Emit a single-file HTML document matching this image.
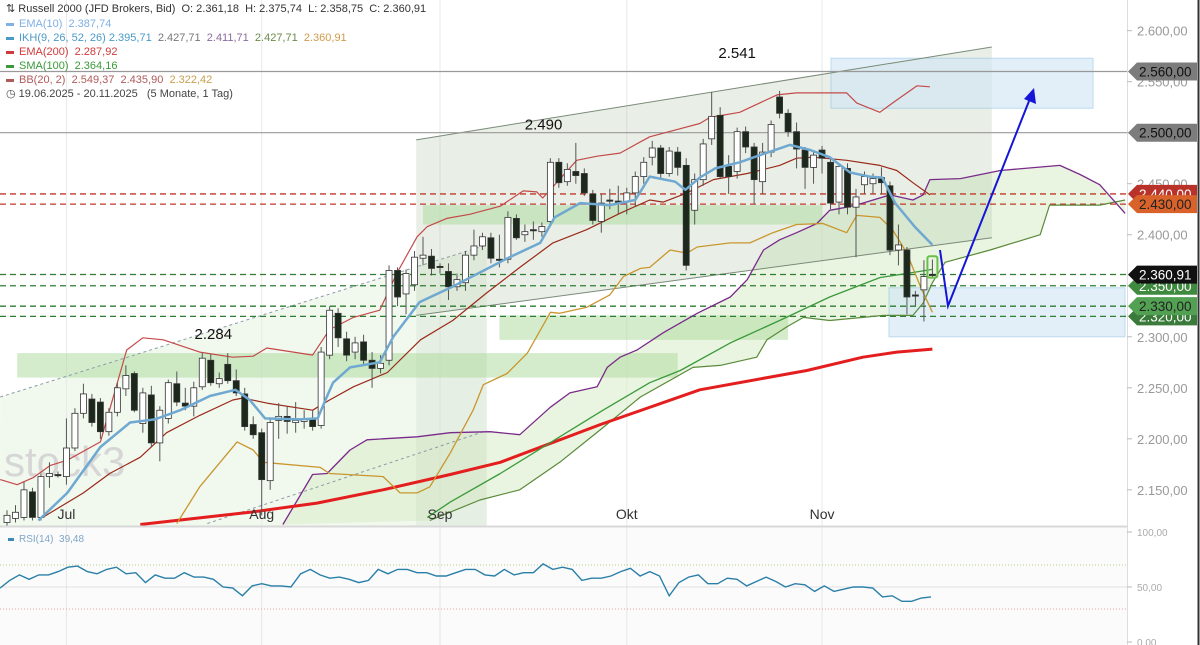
<!DOCTYPE html>
<html><head><meta charset="utf-8"><style>
body{margin:0;background:#fff;font-family:"Liberation Sans",sans-serif;}
#wrap{position:relative;width:1200px;height:645px;overflow:hidden;background:#fff;}
svg{position:absolute;left:0;top:0;}
.lg{position:absolute;left:6px;font-size:11px;line-height:14px;white-space:nowrap;}
.lg b{display:inline-block;width:8px;height:3px;margin-right:5px;vertical-align:middle;font-weight:normal;}
</style></head><body>
<div id="wrap">
<svg id="svg" width="1200" height="645"></svg>
<div class="lg" style="top:2px;color:#333">⇅ Russell 2000 (JFD Brokers, Bid)&nbsp; O: 2.361,18&nbsp; H: 2.375,74&nbsp; L: 2.358,75&nbsp; C: 2.360,91</div>
<div class="lg" style="top:17px;color:#7fb0e6"><b style="background:#7fb0e6"></b>EMA(10)&nbsp; 2.387,74</div>
<div class="lg" style="top:31px;color:#4a9ac8"><b style="background:#4a9ac8"></b>IKH(9, 26, 52, 26) 2.395,71&nbsp; <span style="color:#777">2.427,71</span>&nbsp; <span style="color:#8a6a9a">2.411,71</span>&nbsp; <span style="color:#6a8a4a">2.427,71</span>&nbsp; <span style="color:#d29a4a">2.360,91</span></div>
<div class="lg" style="top:45px;color:#d03a3a"><b style="background:#d03a3a"></b>EMA(200)&nbsp; 2.287,92</div>
<div class="lg" style="top:59px;color:#3a9a3a"><b style="background:#3a9a3a"></b>SMA(100)&nbsp; 2.364,16</div>
<div class="lg" style="top:73px;color:#b05a5a"><b style="background:#b05a5a"></b>BB(20, 2)&nbsp; 2.549,37&nbsp; 2.435,90&nbsp; <span style="color:#c9a050">2.322,42</span></div>
<div class="lg" style="top:87px;color:#444">◷ 19.06.2025 - 20.11.2025&nbsp;&nbsp; (5 Monate, 1 Tag)</div>
<div class="lg" style="top:533px;left:8px;font-size:10px;color:#7fa6c8"><b style="background:#3a8ab8;width:6px"></b>RSI(14)&nbsp; 39,48</div>
</div>
<script>
const opens=[2118,2122,2123,2148,2123,2163,2165,2163,2191,2225,2239,2236,2207,2226,2249,2264,2215,2243,2196,2220,2254,2235,2232,2251,2277,2254,2273,2257,2244,2214,2206,2159,2218,2222,2216,2217,2220,2213,2282,2323,2298,2285,2295,2277,2269,2277,2365,2342,2351,2377,2379,2369,2364,2349,2353,2380,2389,2397,2376,2376,2416,2400,2405,2403,2413,2471,2452,2462,2460,2440,2413,2434,2433,2432,2441,2457,2476,2485,2460,2481,2468,2424,2454,2494,2517,2467,2462,2501,2486,2452,2481,2535,2519,2501,2483,2466,2483,2471,2432,2465,2427,2449,2450,2456,2448,2385,2385,2341,2346,2361.18];
const closes=[2125,2128,2150,2123,2163,2166,2164,2191,2225,2244,2216,2207,2226,2250,2262,2228,2245,2196,2228,2255,2236,2232,2250,2279,2255,2259,2257,2245,2212,2204,2160,2216,2222,2217,2218,2220,2212,2285,2326,2299,2282,2294,2277,2269,2274,2365,2339,2362,2378,2380,2367,2368,2349,2356,2380,2389,2398,2377,2375,2417,2397,2403,2404,2408,2471,2451,2464,2458,2441,2414,2431,2433,2432,2441,2457,2471,2485,2460,2482,2466,2370,2454,2489,2516,2457,2457,2501,2486,2454,2481,2508,2519,2501,2484,2466,2478,2475,2431,2467,2427,2437,2457,2455,2451,2385,2390,2339,2340,2359,2360.91];
const highs=[2130,2135,2158,2152,2166,2177,2168,2220,2230,2254,2244,2240,2230,2255,2272,2266,2250,2252,2232,2258,2266,2250,2256,2284,2283,2265,2284,2268,2250,2222,2210,2220,2235,2232,2236,2228,2228,2290,2330,2328,2305,2300,2302,2285,2282,2370,2368,2366,2384,2398,2386,2372,2372,2362,2384,2405,2402,2402,2400,2423,2420,2410,2413,2412,2475,2475,2470,2490,2465,2444,2440,2445,2448,2446,2462,2476,2492,2488,2486,2486,2475,2460,2494,2540,2525,2478,2505,2506,2490,2490,2512,2541,2523,2510,2486,2482,2487,2474,2470,2470,2445,2462,2460,2466,2452,2410,2388,2345,2375,2375.74];
const lows=[2112,2118,2120,2120,2120,2152,2162,2155,2188,2220,2212,2200,2203,2222,2242,2226,2206,2192,2178,2215,2232,2228,2222,2248,2252,2250,2254,2242,2208,2200,2125,2150,2200,2205,2206,2210,2208,2210,2278,2290,2276,2278,2272,2250,2264,2272,2330,2322,2345,2370,2360,2362,2336,2345,2345,2375,2385,2372,2368,2372,2395,2393,2395,2398,2408,2446,2448,2450,2438,2410,2402,2425,2420,2420,2428,2450,2468,2455,2457,2458,2365,2410,2448,2488,2455,2440,2455,2480,2430,2440,2476,2514,2496,2465,2445,2450,2460,2425,2420,2420,2378,2440,2440,2440,2380,2370,2322,2330,2315,2358.75];

const emaIdx=[3.7,7.1,11,14.5,17.4,20.4,23.9,26.9,28.6,30.4,34.5,36.6,37.5,38.4,40.4,43.9,45.5,48.6,52.2,55.7,59.2,62.8,64.5,67.5,71,74,75.7,78.7,79.9,81.6,83.4,86.3,88.7,92.2,94.6,96.9,99.3,101.6,103.1,104.6,106.9,109];
const emaVal=[2120,2147,2192,2216,2219,2228,2242,2248,2238,2220,2219,2220,2238,2255,2270,2275,2300,2334,2348,2363,2378,2392,2417,2431,2429,2434,2457,2452,2444,2456,2465,2471,2478,2488,2483,2476,2461,2457,2456,2431,2408,2390];
const bbUpIdx=[-0.8,1.2,3.1,5.1,7.1,11,14.1,16,18.4,22.7,26.6,29,30.6,34.5,36,38,40.8,43.9,45.9,48.3,49.5,51.8,54.5,58.1,60.8,62.4,63.1,64.3,67.1,69.5,72.2,75.7,81.6,82.8,86.3,90.7,93,96.9,98.9,100.1,102.8,104.8,107.2,108.7];
const bbUpVal=[2160,2155,2162,2174,2179,2197,2287,2299,2297,2285,2280,2281,2289,2284,2282,2307,2319,2326,2362,2398,2408,2416,2420,2428,2443,2442,2436,2447,2473,2477,2480,2496,2509,2515,2520,2537,2539,2539,2539,2529,2520,2532,2546,2545];
const bbMidIdx=[4.2,9,12.1,15.7,18.8,22.7,26.6,27.8,30.6,36,38,40.8,44.8,48.7,52.5,56.5,60.4,64.3,68.3,72.2,75.7,77.3,80.1,83.2,87.2,91,93,95,98.9,102.8,104.8,106.7,108.7];
const bbMidVal=[2123,2147,2166,2182,2206,2223,2238,2240,2235,2228,2238,2251,2265,2297,2316,2343,2368,2392,2405,2421,2434,2432,2441,2454,2460,2468,2475,2476,2473,2468,2463,2451,2439];
const bbLowIdx=[20,22.7,27.1,29,30.2,36.9,38,44.3,46.3,48.3,49.8,52.2,54.9,56.1,58.9,61.3,64,65.1,68.3,71,72.6,74.6,75.7,78.1,80.1,81.3,85.2,87.5,90.2,93,96.1,98.9,100.1,102.8,104.3,106,107.6,109];
const bbLowVal=[2117,2153,2197,2189,2177,2172,2166,2163,2147,2147,2153,2186,2228,2253,2264,2284,2324,2323,2329,2341,2359,2367,2368,2385,2382,2388,2392,2392,2402,2410,2411,2402,2419,2417,2405,2382,2349,2324];
const smaIdx=[49.5,52.2,58.1,65.1,70.2,75.7,79.3,85.2,91,96.9,102.8,106.7,109];
const smaVal=[2123,2138,2166,2202,2228,2255,2267,2294,2316,2339,2358,2363,2366];
const ema200Idx=[15.7,28.6,36.5,44.3,52.2,58.1,69.9,81.6,94.2,100.8,104.8,109];
const ema200Val=[2116,2128,2137,2150,2165,2177,2214,2248,2267,2280,2285,2287.92];
const spanBIdx=[32.5,36,37.7,40.4,42.4,48.3,52.2,56.9,60.4,64,66.3,69.5,70.7,72.2,74.2,77.3,81.3,85.2,87.2,89.1,91,93,95.4,96.9,98.9,100.8,104,106.7,107.9,108.7,112.3,117,124,126.4,128.7,131.7];
const spanBVal=[2116,2165,2166,2189,2199,2202,2206,2207,2204,2231,2245,2251,2270,2280,2287,2304,2323,2339,2356,2385,2395,2402,2411,2424,2427,2431,2439,2434,2439,2454,2455,2463,2468,2459,2449,2421];
const spanAIdx=[49.8,55.7,60.4,65.1,69.9,74.6,80.8,84,88.3,89.5,91.9,93.8,96.9,100.8,103.2,106.7,107.9,109,110.5,115.8,121.7,122.8,128.7,131.7];
const spanAVal=[2120,2140,2150,2177,2209,2241,2270,2272,2280,2297,2310,2319,2316,2319,2321,2321,2333,2353,2373,2385,2400,2429,2429,2434];
const rsiVals=[49,56,61,57,61,61,64,68,69,64,62,66,68,62,63,54,61,58,58,63,59,59,57,50,49,42,51,53,51,51,50,62,66,61,58,59,57,54,56,66,62,66,66,63,63,60,60,63,66,66,61,60,66,61,63,63,71,66,68,66,56,58,58,60,64,67,60,64,60,42,54,59,61,53,53,58,57,51,55,59,55,50,53,52,46,51,46,48,50,50,49,41,42,37,37,40,41];
const priceTicks=[2600,2550,2500,2450,2400,2350,2300,2250,2200,2150];
const rsiTicks=[100,50,0];
const monthLabels=["Jul","Aug","Sep","Okt","Nov"];
const monthIdx=[7,30,51,73,96];
const hLineGray=[2560,2500];
const hLineRed=[2440,2430];
const hLineGreen=[2361,2350,2330,2320];
const zoneTop=[2284,2429,2321];
const zoneBot=[2260,2410,2297];
const zoneFrom=[1.2,49,58];
const zoneTo=[79,96,92];
const peakLabels=["2.284","2.490","2.541"];
const peakIdx=[24.3,63.2,86];
const peakVal=[2298,2503,2573];

const X=i=>7+i*8.49;
const Y=v=>2683.7-1.0204*v;
const YR=r=>587-(r-50)*1.1;
const NS="http://www.w3.org/2000/svg";
const svg=document.getElementById('svg');
function mk(tag,attrs,parent){const e=document.createElementNS(NS,tag);for(const k in attrs)e.setAttribute(k,attrs[k]);(parent||svg).appendChild(e);return e;}
function fmt(v){const s=v.toFixed(2).split('.');return s[0].replace(/\B(?=(\d{3})+(?!\d))/g,'.')+','+s[1];}
function pts(ix,vals){return ix.map((d,k)=>X(d).toFixed(1)+','+Y(vals[k]).toFixed(1)).join(' ');}

// backgrounds
let e;
e=mk('rect',{x:0,y:0,width:1127,height:526,fill:'#fff'});

e=mk('polygon',{points:`${X(-0.8)},${Y(2241)} ${X(56.5)},${Y(2390)} ${X(56.5)},526 0,526`,fill:'#eef6ea',opacity:0.8});

// month grid
monthIdx.forEach((m,k)=>{
 e=mk('line',{x1:X(m),x2:X(m),y1:0,y2:645,stroke:'#e9e9e9','stroke-width':1});
 
});
// ichimoku cloud
const cloud=pts(spanBIdx,spanBVal)+' '+spanAIdx.slice().reverse().map((d,k)=>X(d).toFixed(1)+','+Y(spanAVal[spanAVal.length-1-k]).toFixed(1)).join(' ');
e=mk('polygon',{points:cloud,fill:'#d8ecc9',opacity:0.55});

// trend channel
const chI=[48.2,116],chU=[2493,2584],chL=[2321,2397];
e=mk('polygon',{points:`${X(chI[0])},${Y(chU[0])} ${X(chI[1])},${Y(chU[1])} ${X(chI[1])},${Y(chL[1])} ${X(chI[0])},${Y(chL[0])}`,fill:'#9db592',opacity:0.22});

e=mk('rect',{x:X(48.2),y:Y(chL[0]),width:X(56.5)-X(48.2),height:526-Y(chL[0]),fill:'#9db592',opacity:0.12});

// zones
zoneTop.forEach((t,k)=>{
 e=mk('rect',{x:X(zoneFrom[k]),y:Y(t),width:X(zoneTo[k])-X(zoneFrom[k]),height:Y(zoneBot[k])-Y(t),fill:'#a9d99a',opacity:0.5});
 
});
// blue boxes
e=mk('rect',{x:831,y:Y(2573),width:262,height:Y(2524)-Y(2573),fill:'#cfe6f5',opacity:0.6,stroke:'#8cc4e6'});

e=mk('rect',{x:889,y:Y(2348),width:236,height:Y(2300)-Y(2348),fill:'#cfe6f5',opacity:0.6,stroke:'#8cc4e6'});

// channel lines
[[chU],[chL]].forEach(c=>{e=mk('line',{x1:X(chI[0]),y1:Y(c[0][0]),x2:X(chI[1]),y2:Y(c[0][1]),stroke:'#7a8a78','stroke-width':1});
 });
e=mk('line',{x1:X(-0.8),y1:Y(2241),x2:X(56.5),y2:Y(2390),stroke:'#8a9aa8','stroke-dasharray':'3,3'});

e=mk('line',{x1:X(23.6),y1:Y(2117),x2:X(56.5),y2:Y(2208),stroke:'#8a9aa8','stroke-dasharray':'3,3'});

// horizontal lines
hLineGray.forEach(v=>{e=mk('line',{x1:0,x2:1127,y1:Y(v),y2:Y(v),stroke:'#999','stroke-width':1.2});});
hLineRed.forEach(v=>{e=mk('line',{x1:0,x2:1127,y1:Y(v),y2:Y(v),stroke:'#c0392b','stroke-width':1.3,'stroke-dasharray':'6,4'});});
hLineGreen.forEach(v=>{e=mk('line',{x1:0,x2:1127,y1:Y(v),y2:Y(v),stroke:'#2e7d32','stroke-width':1.3,'stroke-dasharray':'6,4'});});
// watermark
e=mk('text',{x:4,y:476,'font-size':42,fill:'#d6d6d6','font-family':'Liberation Sans, sans-serif'});e.textContent='stock3';

// indicator lines
function line(ix,vals,color,w,name){e=mk('polyline',{points:pts(ix,vals),fill:'none',stroke:color,'stroke-width':w,'stroke-linejoin':'round'});}
line(spanAIdx,spanAVal,'#5a8a3a',1.2,'ichimoku-span-a');
line(spanBIdx,spanBVal,'#7a2a8a',1.3,'ichimoku-span-b');
line(ema200Idx,ema200Val,'#e41e1e',3,'ema200-line');
line(smaIdx,smaVal,'#3a9a3a',1.3,'sma100-line');
line(bbLowIdx,bbLowVal,'#c9962e',1.3,'bb-lower');
line(bbMidIdx,bbMidVal,'#9a2a1a',1.2,'bb-middle');
line(bbUpIdx,bbUpVal,'#c44a4a',1.2,'bb-upper');
// candles
for(let i=0;i<opens.length;i++){
 const o=opens[i],c=closes[i],x=X(i),up=c>=o;
 const g=mk('g',{});
 
 
 mk('line',{x1:x,x2:x,y1:Y(highs[i]),y2:Y(lows[i]),stroke:'#555','stroke-width':1},g);
 const top=Y(Math.max(o,c)),h=Math.max(1.2,Y(Math.min(o,c))-top);
 mk('rect',{x:x-3,y:top,width:6,height:h,fill:up?'#fff':'#1c281c',stroke:'#333','stroke-width':0.8},g);
}
e=mk('rect',{x:X(109)-5,y:Y(2376)-3,width:10,height:Y(2355)-Y(2376),rx:2,fill:'none',stroke:'#6abf4b','stroke-width':2});

line(emaIdx,emaVal,'#6fa8d0',2.5,'ema10-line');
// peak labels
peakLabels.forEach((t,k)=>{e=mk('text',{x:X(peakIdx[k]),y:Y(peakVal[k]),'font-size':15,fill:'#111','text-anchor':'middle'});e.textContent=t;});
// arrow
e=mk('polyline',{points:'940,250 948,306 1031,96',fill:'none',stroke:'#1515d8','stroke-width':2});

e=mk('polygon',{points:'1034,88 1036,104 1024,99',fill:'#1515d8'});

// RSI panel
e=mk('rect',{x:0,y:527,width:1127,height:118,fill:'#fbfbfb'});
monthIdx.forEach(m=>{e=mk('line',{x1:X(m),x2:X(m),y1:527,y2:645,stroke:'#e6e6e6'});});
e=mk('line',{x1:0,x2:1200,y1:526.5,y2:526.5,stroke:'#d8d8d8','stroke-width':2});
e=mk('line',{x1:0,x2:1127,y1:YR(70),y2:YR(70),stroke:'#b5cf8a','stroke-dasharray':'1,2'});
e=mk('line',{x1:0,x2:1127,y1:YR(50),y2:YR(50),stroke:'#e0e0e0'});
e=mk('line',{x1:0,x2:1127,y1:YR(30),y2:YR(30),stroke:'#e6a0a0','stroke-dasharray':'1,2'});
const rn=rsiVals.length;
e=mk('polyline',{points:rsiVals.map((r,k)=>(k*931/(rn-1)).toFixed(1)+','+YR(r).toFixed(1)).join(' '),fill:'none',stroke:'#2a7fa8','stroke-width':1.4});

// month labels
monthLabels.forEach((t,k)=>{e=mk('text',{x:X(monthIdx[k]),y:519,'font-size':14,fill:'#333','text-anchor':'middle'});e.textContent=t;});
// right axis
e=mk('rect',{x:1127,y:0,width:73,height:645,fill:'#fff'});
e=mk('line',{x1:1127.5,x2:1127.5,y1:0,y2:645,stroke:'#ddd'});
priceTicks.forEach(v=>{
 e=mk('line',{x1:1127,x2:1132,y1:Y(v),y2:Y(v),stroke:'#bbb'});
 e=mk('text',{x:1137,y:Y(v)+5,'font-size':13,fill:'#999'});e.textContent=fmt(v);
});
rsiTicks.forEach(v=>{
 e=mk('line',{x1:1127,x2:1132,y1:YR(v),y2:YR(v),stroke:'#bbb'});
 e=mk('text',{x:1137,y:YR(v)+4,'font-size':10,fill:'#aaa'});e.textContent=fmt(v);
});
const flagVals=[2560,2500,2440,2430,2350,2320,2330,2360.91];
const flagBg=['#7c7c7c','#7c7c7c','#b8322a','#d9622b','#3f8a3f','#3a7a3a','#52a052','#111'];
const flagFg=['#111','#111','#fff','#222','#fff','#fff','#222','#fff'];
flagVals.forEach((v,k)=>{
 const y=Y(v);
 e=mk('polygon',{points:`1128,${y} 1137,${y-9} 1197,${y-9} 1197,${y+9} 1137,${y+9}`,fill:flagBg[k]});
 
 e=mk('text',{x:1139,y:y+5,'font-size':13.5,fill:flagFg[k]});e.textContent=fmt(v);
 
});
e=mk('line',{x1:1198.5,x2:1198.5,y1:0,y2:645,stroke:'#333','stroke-width':2});
</script>
</body></html>
